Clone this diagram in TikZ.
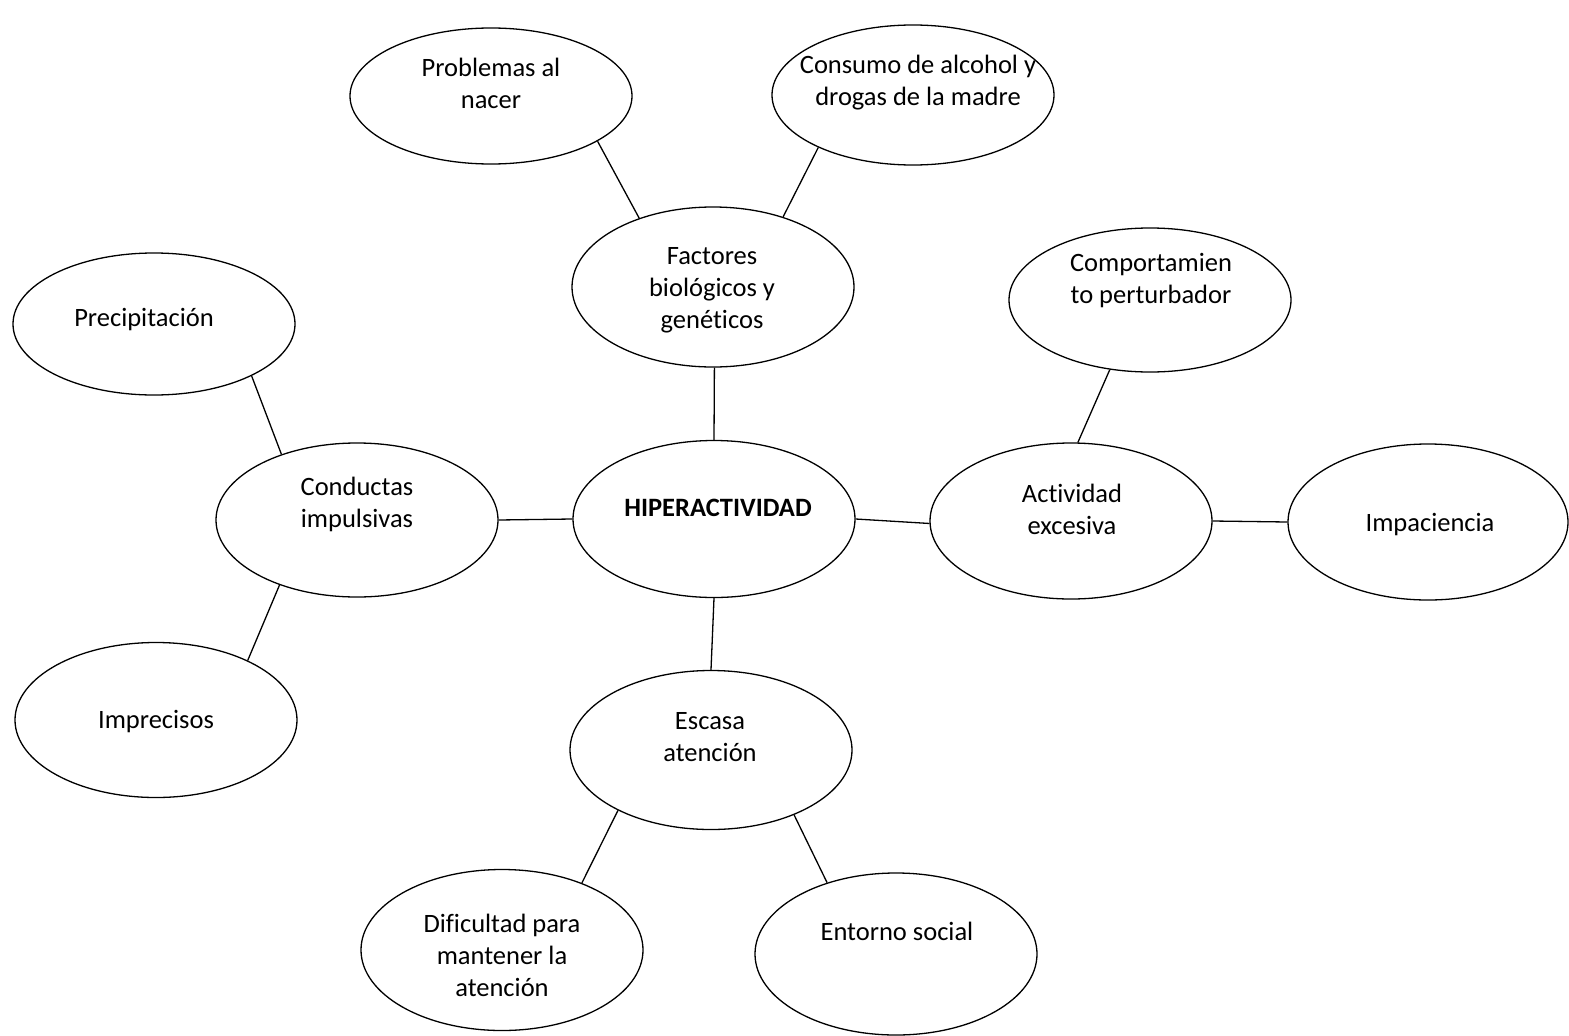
\documentclass[tikz,border=0pt]{standalone}
\usepackage{fontspec}
\setmainfont{Carlito}[Ligatures={NoCommon}]
\usetikzlibrary{shapes.geometric}
\begin{document}
\begin{tikzpicture}[x=1pt,y=-1pt,
  ell/.style={draw,ellipse,line width=1.3pt,inner sep=0pt},
  txt/.style={align=center,font=\fontsize{26.5}{32}\selectfont,inner sep=0pt},
  con/.style={line width=1.3pt}]
\useasboundingbox (0,0) rectangle (1569,1036);
% ellipses
\node[ell,minimum width=282pt,minimum height=136pt] (prob) at (491,96) {};
\node[ell,minimum width=282pt,minimum height=140pt] (cons) at (913,95) {};
\node[ell,minimum width=282pt,minimum height=160pt] (fact) at (713,287) {};
\node[ell,minimum width=282pt,minimum height=144pt] (comp) at (1150,300) {};
\node[ell,minimum width=282pt,minimum height=142pt] (prec) at (154,324) {};
\node[ell,minimum width=282pt,minimum height=154pt] (cond) at (357,520) {};
\node[ell,minimum width=282pt,minimum height=157pt] (hip) at (714,519) {};
\node[ell,minimum width=282pt,minimum height=156pt] (act) at (1071,521) {};
\node[ell,minimum width=280pt,minimum height=156pt] (imp) at (1428,522) {};
\node[ell,minimum width=282pt,minimum height=155pt] (impr) at (156,720) {};
\node[ell,minimum width=282pt,minimum height=159pt] (esc) at (711,750) {};
\node[ell,minimum width=282pt,minimum height=161pt] (dif) at (502,950) {};
\node[ell,minimum width=282pt,minimum height=162pt] (ent) at (896,954) {};
% texts
\node[txt] (tprob) at (491,83) {Problemas al\\nacer};
\node[txt] (tcons) at (918,83) {Consumo de alcohol y\\drogas de la madre};
\node[txt] (tfact) at (712,290) {Factores\\biológicos y\\genéticos};
\node[txt] (tcomp) at (1151,281) {Comportamien\\to perturbador};
\node[txt] (tprec) at (144,320) {Precipitación};
\node[txt] (tcond) at (357,504) {Conductas\\impulsivas};
\node[txt,font=\fontsize{26.5}{32}\selectfont\bfseries] (thip) at (718,508) {HIPERACTIVIDAD};
\node[txt] (tact) at (1072,509) {Actividad\\excesiva};
\node[txt] (timp) at (1430,525) {Impaciencia};
\node[txt] (timpr) at (156,722) {Imprecisos};
\node[txt] (tesc) at (710,737) {Escasa\\atención};
\node[txt] (tdif) at (502,955) {Dificultad para\\mantener la\\atención};
\node[txt] (tent) at (897,931) {Entorno social};
% connectors
\draw[con] (prob.-23.9) -- (fact.137.8);
\draw[con] (cons.-151.9) -- (fact.45);
\draw[con] (fact.-89) -- (hip.90);
\draw[con] (comp.-120.4) -- (act.85.6);
\draw[con] (prec.-28.5) -- (cond.139);
\draw[con] (cond.0) -- (hip.180);
\draw[con] (hip.0) -- (act.181);
\draw[con] (act.0) -- (imp.180);
\draw[con] (cond.220.2) -- (impr.33.1);
\draw[con] (hip.270) -- (esc.90);
\draw[con] (esc.213.2) -- (dif.40.5);
\draw[con] (esc.-38.4) -- (ent.134.6);
\end{tikzpicture}
\end{document}
